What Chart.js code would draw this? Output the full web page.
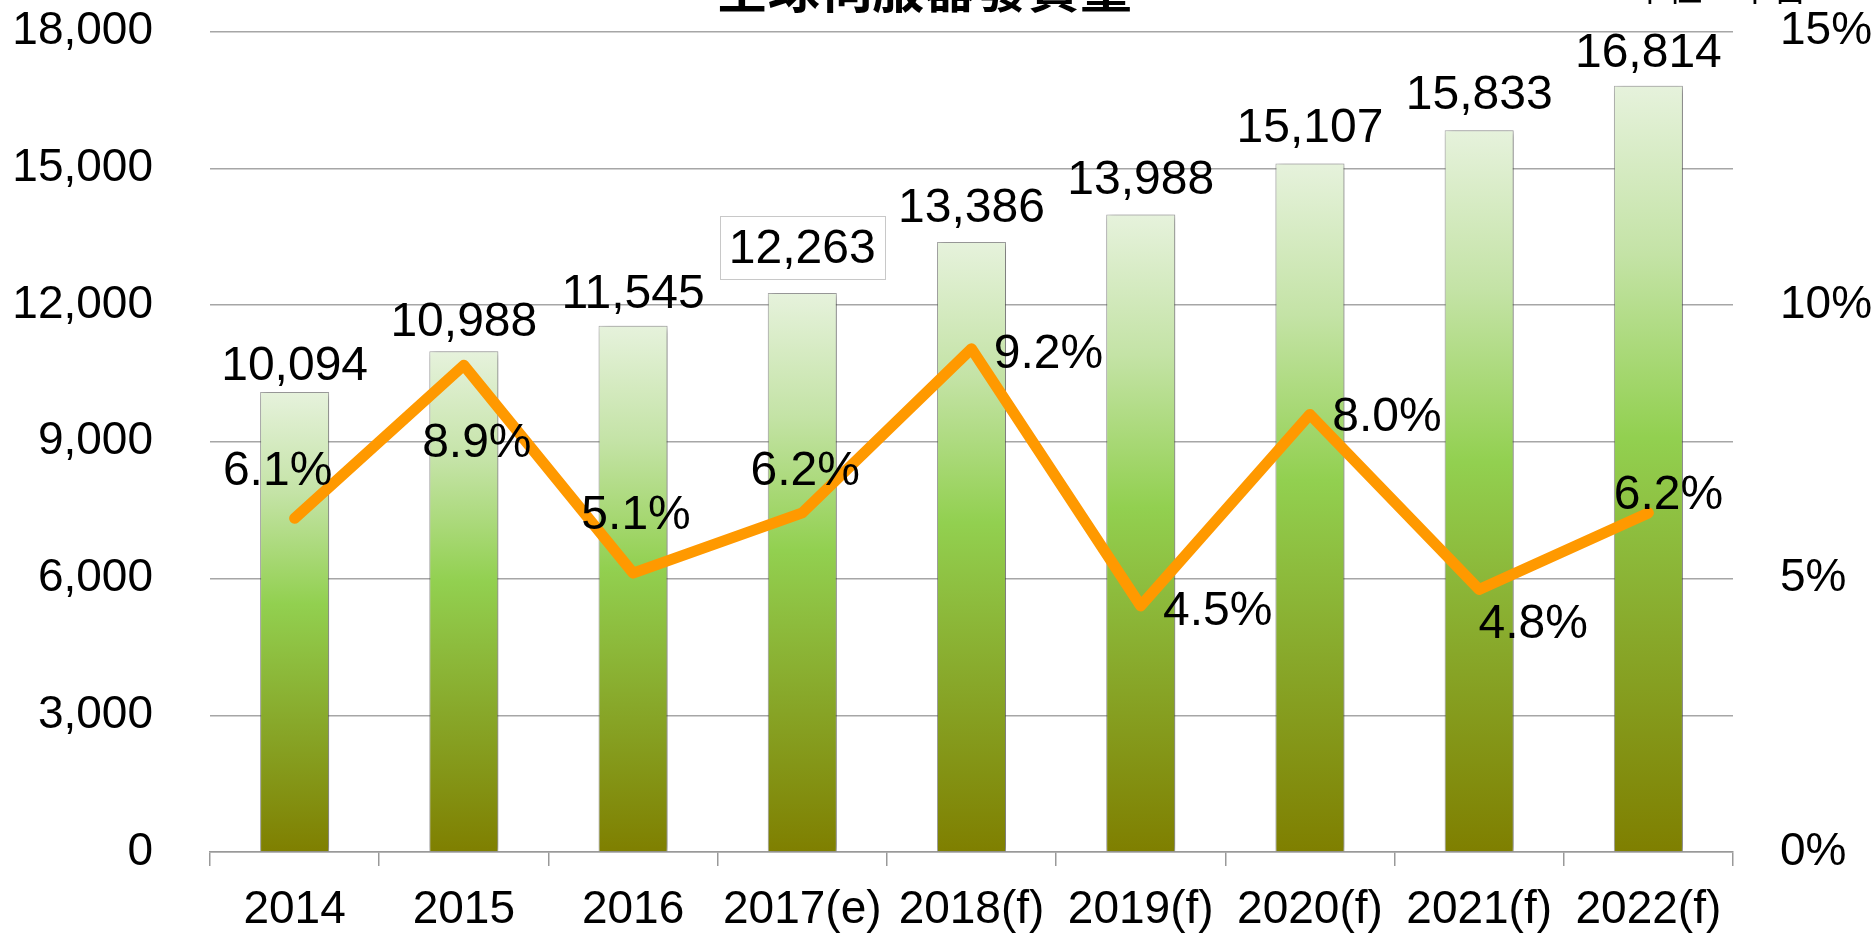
<!DOCTYPE html>
<html>
<head>
<meta charset="utf-8">
<script src="https://cdn.jsdelivr.net/npm/chart.js@4"></script>
<style>
  html, body { margin: 0; padding: 0; background: #ffffff; overflow: hidden; }
  #wrap { position: absolute; left: 0; top: 0; width: 1875px; height: 933px; }
</style>
</head>
<body>
<div id="wrap"><canvas id="c" width="1875" height="933"></canvas></div>
<script>
// ---- data ----
const chartTitle = '全球伺服器發貨量';
const unitText = '單位：千台';
const categories = ['2014', '2015', '2016', '2017(e)', '2018(f)', '2019(f)', '2020(f)', '2021(f)', '2022(f)'];
const shipments = [10094, 10988, 11545, 12263, 13386, 13988, 15107, 15833, 16814];
const growthPct = [6.1, 8.9, 5.1, 6.2, 9.2, 4.5, 8.0, 4.8, 6.2];
const leftTicks = [0, 3000, 6000, 9000, 12000, 15000, 18000];
const rightTicks = [0, 5, 10, 15];
const boxedBarIndex = 3;

// ---- styling ----
const NUM_FONT = '"Liberation Sans", Arial, sans-serif';
const CJK_FONT = '"Noto Sans CJK TC", "Noto Sans CJK SC", sans-serif';
const growthLabelOffsets = [[-17,-47],[13,79],[3,-57],[3,-41],[77,6],[77,6],[77,3],[54,35],[20,-17]];
const barLabelGaps = [12, 15, 18, 30, 20, 20, 21, 21, 19];

function barGradient(context) {
  const chart = context.chart;
  const area = chart.chartArea;
  if (!area || context.type !== 'data') return '#92d050';
  const ys = chart.scales.y;
  const top = ys.getPixelForValue(context.raw);
  const base = ys.getPixelForValue(0);
  const g = chart.ctx.createLinearGradient(0, top, 0, base);
  g.addColorStop(0, '#e6f2dc');
  g.addColorStop(0.22, '#c4e3a6');
  g.addColorStop(0.46, '#92d050');
  g.addColorStop(0.72, '#88a82a');
  g.addColorStop(1, '#7f7f00');
  return g;
}

const shadowPlugin = {
  id: 'barShadow',
  beforeDatasetDraw(chart, args) {
    if (chart.data.datasets[args.index].type !== 'bar') return;
    const ctx = chart.ctx;
    ctx.save();
    ctx.shadowColor = 'rgba(0,0,0,0.45)';
    ctx.shadowBlur = 7;
    ctx.shadowOffsetX = 2;
    ctx.shadowOffsetY = 1;
  },
  afterDatasetDraw(chart, args) {
    if (chart.data.datasets[args.index].type !== 'bar') return;
    chart.ctx.restore();
  }
};

const labelPlugin = {
  id: 'labels',
  afterDatasetsDraw(chart) {
    const ctx = chart.ctx;
    ctx.save();
    ctx.fillStyle = '#000';
    ctx.font = '48px ' + NUM_FONT;
    ctx.textAlign = 'center';
    // bar value labels
    const barMeta = chart.getDatasetMeta(1);
    barMeta.data.forEach((el, i) => {
      const txt = shipments[i].toLocaleString('en-US');
      const baseline = el.y - barLabelGaps[i];
      if (i === boxedBarIndex) {
        const w = ctx.measureText(txt).width;
        ctx.fillStyle = '#ffffff';
        ctx.fillRect(el.x - w / 2 - 9, baseline - 47, w + 18, 63);
        ctx.strokeStyle = '#c8c8c8';
        ctx.lineWidth = 1;
        ctx.strokeRect(Math.round(el.x - w / 2 - 9) + 0.5, Math.round(baseline - 47) + 0.5, Math.round(w + 18), 63);
        ctx.fillStyle = '#000';
      }
      ctx.textBaseline = 'alphabetic';
      ctx.fillText(txt, el.x, baseline);
    });
    // growth labels
    const lineMeta = chart.getDatasetMeta(0);
    ctx.textBaseline = 'middle';
    lineMeta.data.forEach((el, i) => {
      const off = growthLabelOffsets[i];
      ctx.fillText(growthPct[i].toFixed(1) + '%', el.x + off[0], el.y + off[1]);
    });
    ctx.restore();
  },
  afterDraw(chart) {
    const ctx = chart.ctx;
    ctx.save();
    ctx.fillStyle = '#000';
    ctx.textAlign = 'center';
    ctx.textBaseline = 'alphabetic';
    ctx.font = 'bold 52px ' + CJK_FONT;
    ctx.fillText(chartTitle, 924, 8);
    ctx.font = '35px ' + CJK_FONT;
    ctx.fillText(unitText, 1720, 1);
    ctx.restore();
  }
};

new Chart(document.getElementById('c'), {
  data: {
    labels: categories,
    datasets: [
      {
        type: 'line',
        label: '成長率',
        data: growthPct,
        yAxisID: 'y1',
        borderColor: '#ff9900',
        borderWidth: 11,
        borderCapStyle: 'round',
        borderJoinStyle: 'round',
        pointRadius: 0,
        pointHoverRadius: 0,
        tension: 0,
        fill: false
      },
      {
        type: 'bar',
        label: '發貨量',
        data: shipments,
        yAxisID: 'y',
        backgroundColor: barGradient,
        borderColor: 'rgba(110,110,110,0.55)',
        borderWidth: 1,
        categoryPercentage: 1,
        barPercentage: 0.408
      }
    ]
  },
  options: {
    responsive: false,
    animation: false,
    events: [],
    layout: { padding: { top: 31.5, left: 0, right: 0, bottom: 0 } },
    plugins: {
      legend: { display: false },
      tooltip: { enabled: false },
      title: { display: false }
    },
    scales: {
      x: {
        offset: true,
        afterFit(scale) { scale.height = 81; },
        grid: {
          offset: true,
          drawOnChartArea: false,
          drawTicks: true,
          tickLength: 14,
          color: '#999999',
          lineWidth: 1.5
        },
        border: { display: true, color: '#999999', width: 1.5 },
        ticks: {
          color: '#000',
          font: { family: NUM_FONT, size: 46 },
          padding: 17,
          maxRotation: 0,
          autoSkip: false
        }
      },
      y: {
        position: 'left',
        min: 0,
        max: 18000,
        afterFit(scale) { scale.width = 210; },
        afterBuildTicks(scale) { scale.ticks = leftTicks.map(v => ({ value: v })); },
        grid: { color: '#a6a6a6', lineWidth: 1.5, drawTicks: true, tickLength: 53, tickColor: 'rgba(0,0,0,0)' },
        border: { display: false },
        ticks: {
          color: '#000',
          font: { family: NUM_FONT, size: 46 },
          padding: 4,
          callback: v => Number(v).toLocaleString('en-US')
        }
      },
      y1: {
        position: 'right',
        min: 0,
        max: 15,
        afterFit(scale) { scale.width = 142; },
        afterBuildTicks(scale) { scale.ticks = rightTicks.map(v => ({ value: v })); },
        grid: { display: true, drawOnChartArea: false, drawTicks: true, tickLength: 43, tickColor: 'rgba(0,0,0,0)', color: 'rgba(0,0,0,0)' },
        border: { display: false },
        ticks: {
          color: '#000',
          font: { family: NUM_FONT, size: 46 },
          padding: 4,
          callback: v => v + '%'
        }
      }
    }
  },
  plugins: [shadowPlugin, labelPlugin]
});
</script>
</body>
</html>
